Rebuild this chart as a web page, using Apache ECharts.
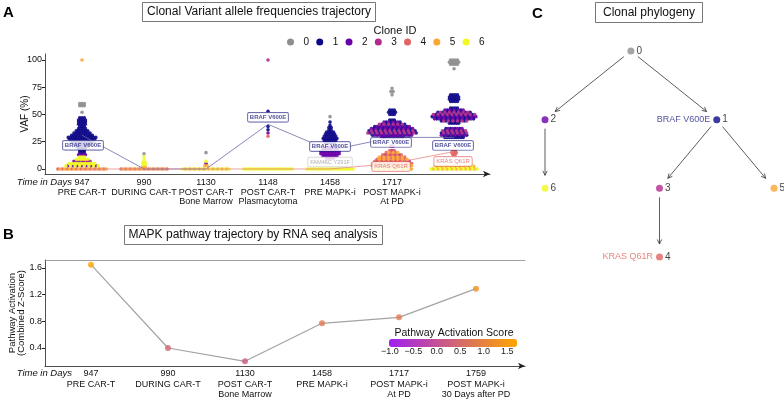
<!DOCTYPE html>
<html>
<head>
<meta charset="utf-8">
<script src="https://cdn.jsdelivr.net/npm/echarts@6/dist/echarts.min.js"></script>
<style>
  html, body { margin: 0; padding: 0; background: #fff; }
  #chart { width: 784px; height: 399px; }
</style>
</head>
<body>
<div id="chart"></div>
<script>
// ---- data ----
const cloneIds = ['0', '1', '2', '3', '4', '5', '6'];
const cloneColors = ['#8e8e8e', '#0D0887', '#6A00A8', '#B12A90', '#E16462', '#FCA636', '#F0F921'];

const daysA = [947, 990, 1130, 1148, 1458, 1717, 1759];
const stagesA = ['PRE CAR-T', 'DURING CAR-T', 'POST CAR-T\nBone Marrow', 'POST CAR-T\nPlasmacytoma',
  'PRE MAPK-i', 'POST MAPK-i\nAt PD', 'POST MAPK-i\n30 Days after PD'];

// beeswarm rows per time point: [clone, VAF, number of variants in the row, mixed clone]
const vafDay947 = [[5, 100, 1], [0, 60, 3], [0, 58, 3], [0, 52, 1],
  [1, 47, 3], [1, 45, 4], [1, 43, 4], [1, 41, 4], [1, 39, 3], [1, 37, 4], [1, 35, 6], [1, 33, 8],
  [1, 31, 10], [1, 29, 13], [1, 27, 12], [1, 25, 10], [1, 23, 8], [1, 21, 6], [1, 19, 4], [1, 17, 3], [1, 15, 3],
  [2, 13, 4], [6, 11, 3], [6, 9, 6], [2, 7, 8, 3], [6, 5, 12], [6, 3, 15, 2], [4, 0, 22, 5]];
const vafDay990 = [[0, 14, 1], [6, 11, 1], [6, 8, 1], [6, 6, 2], [6, 4, 2], [5, 2, 2], [4, 0, 21, 5]];
const vafDay1130 = [[0, 15, 1], [6, 7, 1], [2, 5, 1], [5, 3, 2], [6, 0, 21, 5]];
const vafDay1148 = [[3, 100, 1], [1, 53, 1], [1, 39, 1], [1, 36, 1], [2, 33, 1], [4, 30, 1], [6, 0, 22]];
const vafDay1458 = [[0, 48, 1], [1, 43, 1], [1, 40, 1], [1, 38, 2], [1, 36, 2], [1, 34, 4], [1, 32, 5],
  [1, 30, 6], [1, 28, 7], [1, 26, 6], [1, 24, 5], [2, 20, 4], [2, 18, 7], [2, 16, 9], [2, 14, 9],
  [2, 12, 7], [2, 10, 4], [6, 0, 21]];
const vafDay1717 = [[0, 74, 1], [0, 71, 2], [0, 68, 1], [1, 54, 3], [1, 52, 4], [1, 50, 3],
  [1, 45, 3], [2, 43, 8, 1], [3, 41, 12, 1], [1, 39, 16, 2], [2, 37, 19, 1], [1, 35, 21, 3],
  [3, 33, 22, 1], [1, 31, 18, 2], [2, 29, 10, 1], [3, 21, 2], [4, 17, 3, 3], [4, 15, 6, 5],
  [4, 13, 9, 3], [5, 11, 12, 4], [4, 9, 14, 5], [4, 7, 16, 3], [5, 5, 18, 4], [4, 3, 18, 5], [6, 0, 18, 5]];
const vafDay1759 = [[0, 100, 4], [0, 98, 5], [0, 96, 4], [0, 92, 1], [1, 68, 4], [1, 66, 5], [1, 64, 5],
  [1, 62, 4], [1, 56, 4], [2, 54, 9, 1], [1, 52, 15, 3], [3, 50, 19, 1], [1, 48, 20, 2], [2, 46, 18, 1],
  [1, 44, 12, 3], [1, 42, 5], [1, 37, 8, 2], [3, 35, 11, 1], [1, 33, 12, 3], [2, 31, 12, 1], [1, 29, 9],
  [4, 17, 2], [4, 15, 3], [4, 13, 2], [6, 2.5, 18, 5], [6, 0, 21, 5]];
const swarmByTime = [vafDay947, vafDay990, vafDay1130, vafDay1148, vafDay1458, vafDay1717, vafDay1759];

const brafVaf = [31, 0, 0, 41, 17, 29, 29];
const krasVaf = [0, 0, 0, 0, 0, 5, 16];
const brafLabelAt = [0, 3, 4, 5, 6];
const krasLabelAt = [5, 6];
const famLabelAt = [4];
const famVaf = [0, 0, 0, 0, 0, 0, 0];

const daysB = [947, 990, 1130, 1458, 1717, 1759];
const stagesB = ['PRE CAR-T', 'DURING CAR-T', 'POST CAR-T\nBone Marrow', 'PRE MAPK-i',
  'POST MAPK-i\nAt PD', 'POST MAPK-i\n30 Days after PD'];
const mapkScore = [1.65, 0.40, 0.20, 0.77, 0.86, 1.29];
const scoreTicks = [-1.0, -0.5, 0.0, 0.5, 1.0, 1.5];

const phyloNodes = ['0', '1', '2', '3', '4', '5', '6'];
const phyloEdges = [['0', '2'], ['0', '1'], ['2', '6'], ['1', '3'], ['1', '5'], ['3', '4']];
const mutationNodes = ['1', '4'];
const mutationNames = ['BRAF V600E', 'KRAS Q61R'];

// ---- helpers ----
const FONT = 'Liberation Sans, Arial, sans-serif';

function stageLabel(days, stages) {
  return function (v) {
    const i = Math.round(v);
    const lines = stages[i].split('\n').map(s => '{s|' + s + '}');
    return '{d|' + days[i] + '}\n' + lines.join('\n');
  };
}

// swarm rows -> one series per clone
const swarmData = cloneIds.map(() => []);
swarmByTime.forEach((rows, t) => {
  rows.forEach(r => {
    const [clone, vaf, n, alt] = r;
    if (alt === undefined) {
      swarmData[clone].push([t, vaf, n, 0]);
    } else {
      swarmData[clone].push([t, vaf, n, 1]);
      swarmData[alt].push([t, vaf, n, 2]);
    }
  });
});

function renderSwarm(params, api) {
  const t = api.value(0), vaf = api.value(1), n = api.value(2), phase = api.value(3);
  const c = api.coord([t, vaf]);
  const step = 2.3;
  const children = [];
  for (let k = 0; k < n; k++) {
    if (phase === 1 && k % 2 === 1) continue;
    if (phase === 2 && k % 2 === 0) continue;
    children.push({
      type: 'circle',
      shape: { cx: c[0] + (k - (n - 1) / 2) * step, cy: c[1], r: 1.8 },
      style: { fill: api.visual('color'), opacity: 0.9 }
    });
  }
  return { type: 'group', children: children };
}

// simple tidy tree layout: leaves in order, parents centred over children
function layoutTree(root) {
  const pos = {};
  let leaf = 0;
  function visit(id, depth) {
    const kids = phyloEdges.filter(e => e[0] === id).map(e => e[1]);
    let x;
    if (!kids.length) {
      x = leaf++;
    } else {
      const xs = kids.map(k => visit(k, depth + 1));
      x = (Math.min(...xs) + Math.max(...xs)) / 2;
    }
    pos[id] = [x, depth];
    return x;
  }
  visit(root, 0);
  return pos;
}
const treePos = layoutTree('0');

function renderEdge(params, api) {
  const p = api.coord([api.value(0), api.value(1)]);
  const q = api.coord([api.value(2), api.value(3)]);
  const dx = q[0] - p[0], dy = q[1] - p[1];
  const len = Math.sqrt(dx * dx + dy * dy);
  const ux = dx / len, uy = dy / len;
  const s = [p[0] + ux * 9, p[1] + uy * 9];
  const e = [q[0] - ux * 13, q[1] - uy * 13];
  const a = 0.45, w = 5;
  const w1 = [e[0] - w * (ux * Math.cos(a) - uy * Math.sin(a)), e[1] - w * (uy * Math.cos(a) + ux * Math.sin(a))];
  const w2 = [e[0] - w * (ux * Math.cos(a) + uy * Math.sin(a)), e[1] - w * (uy * Math.cos(a) - ux * Math.sin(a))];
  const st = { stroke: '#333', lineWidth: 0.8, fill: null };
  return {
    type: 'group', children: [
      { type: 'line', shape: { x1: s[0], y1: s[1], x2: e[0], y2: e[1] }, style: st },
      { type: 'polyline', shape: { points: [w1, e, w2] }, style: st }
    ]
  };
}

function labelBox(color, bold) {
  return {
    show: true, position: 'inside', color: color, fontSize: 6, fontWeight: bold ? 'bold' : 'normal',
    backgroundColor: '#fff', borderColor: color, borderWidth: 0.7, borderRadius: 1.5, padding: [2, 2, 1, 2]
  };
}

// ---- series ----
const series = [];
cloneIds.forEach((id, i) => {
  series.push({
    name: id, type: 'custom', xAxisIndex: 0, yAxisIndex: 0, renderItem: renderSwarm,
    data: swarmData[i], encode: { x: 0, y: 1 }, color: cloneColors[i], z: 2, silent: true
  });
});
series.push({
  name: 'braf', type: 'line', xAxisIndex: 0, yAxisIndex: 0, data: brafVaf.map((v, i) => [i, v]),
  showSymbol: false, lineStyle: { color: '#6b6ca8', width: 0.8 }, z: 3, silent: true
});
series.push({
  name: 'kras', type: 'line', xAxisIndex: 0, yAxisIndex: 0, data: krasVaf.map((v, i) => [i, v]),
  showSymbol: false, lineStyle: { color: '#e58a86', width: 0.8 }, z: 3, silent: true
});
const brafOffsets = [[1, 10], [0, -7], [0, -4], [-1, 5], [-1, 8]];
series.push({
  name: 'brafLab', type: 'scatter', xAxisIndex: 0, yAxisIndex: 0, symbolSize: 0, z: 5,
  data: brafLabelAt.map((t, j) => ({ value: [t, brafVaf[t]], label: { offset: brafOffsets[j] } })),
  label: Object.assign(labelBox('#1f1f7f', true), { formatter: 'BRAF V600E' })
});
const krasOffsets = [[-1, 3], [-1, 10]];
series.push({
  name: 'krasLab', type: 'scatter', xAxisIndex: 0, yAxisIndex: 0, symbolSize: 0, z: 5,
  data: krasLabelAt.map((t, j) => ({ value: [t, krasVaf[t]], label: { offset: krasOffsets[j] } })),
  label: Object.assign(labelBox('#e16462', false), { formatter: 'KRAS Q61R' })
});
series.push({
  name: 'famLab', type: 'scatter', xAxisIndex: 0, yAxisIndex: 0, symbolSize: 0, z: 5,
  data: famLabelAt.map(t => ({ value: [t, famVaf[t]], label: { offset: [0, -7] } })),
  label: Object.assign(labelBox('#9a9a9a', false), { formatter: 'FAM46C Y291F', fontSize: 5.6, borderColor: '#c8c8c8' })
});

series.push({
  name: 'mapkLine', type: 'line', xAxisIndex: 1, yAxisIndex: 1, data: mapkScore.map((v, i) => [i, v]),
  showSymbol: false, lineStyle: { color: '#a3a3a3', width: 1.2 }, z: 2, silent: true
});
const mapkPointIndex = series.length;
series.push({
  name: 'mapkPoints', type: 'scatter', xAxisIndex: 1, yAxisIndex: 1, data: mapkScore.map((v, i) => [i, v]),
  symbolSize: 6, z: 3
});

series.push({
  name: 'edges', type: 'custom', xAxisIndex: 3, yAxisIndex: 2, renderItem: renderEdge, silent: true,
  data: phyloEdges.map(e => [treePos[e[0]][0], treePos[e[0]][1], treePos[e[1]][0], treePos[e[1]][1]]),
  encode: { x: [0, 2], y: [1, 3] }
});
series.push({
  name: 'nodes', type: 'scatter', xAxisIndex: 3, yAxisIndex: 2, symbolSize: 7, z: 3,
  data: phyloNodes.map((id, i) => ({ value: treePos[id], itemStyle: { color: cloneColors[i] } })),
  label: { show: true, position: 'right', distance: 2, formatter: p => phyloNodes[p.dataIndex], fontSize: 10, color: '#111' }
});
const mutationColors = ['#25258a', '#e16462'];
series.push({
  name: 'mutations', type: 'scatter', xAxisIndex: 3, yAxisIndex: 2, symbolSize: 7, z: 2, silent: true,
  itemStyle: { color: 'rgba(0,0,0,0)' },
  data: mutationNodes.map((id, i) => ({ value: treePos[id], label: { color: mutationColors[i] } })),
  label: { show: true, position: 'left', distance: 3, fontSize: 9, formatter: p => mutationNames[p.dataIndex] }
});

// ---- colorbar tick labels (legend decoration) ----
const cbLeft = 389, cbWidth = 128, cbMin = -1.02, cbMax = 1.71;
const cbTickText = scoreTicks.map(v => ({
  type: 'text', x: cbLeft + (v - cbMin) / (cbMax - cbMin) * cbWidth, y: 352,
  style: { text: v.toFixed(1).replace('-', '\u2212'), font: '9px ' + FONT, fill: '#222', align: 'center', verticalAlign: 'middle' }
}));

const richA = {
  d: { fontSize: 9, lineHeight: 11, color: '#111', align: 'center' },
  s: { fontSize: 9, lineHeight: 9, color: '#111', align: 'center' }
};
const richB = {
  d: { fontSize: 9, lineHeight: 13, color: '#111', align: 'center' },
  s: { fontSize: 9, lineHeight: 10, color: '#111', align: 'center' }
};
const axisLineStyle = { lineStyle: { color: '#222', width: 0.8 }, onZero: false };

const option = {
  animation: false,
  backgroundColor: '#fff',
  textStyle: { fontFamily: FONT },
  grid: [
    { left: 45, top: 54, width: 445, height: 120, outerBoundsMode: 'none' },
    { left: 45, top: 260, width: 480, height: 106, outerBoundsMode: 'none' },
    { left: 545, top: 51, width: 229, height: 206, outerBoundsMode: 'none' }
  ],
  legend: {
    data: cloneIds, left: 287, top: 37, icon: 'circle', itemWidth: 8, itemHeight: 7, itemGap: 7.2,
    textStyle: { fontSize: 10, color: '#111', padding: [0, 0, 0, 4] }, padding: 0
  },
  visualMap: {
    type: 'continuous', seriesIndex: mapkPointIndex, dimension: 1, min: cbMin, max: cbMax,
    inRange: { color: ['#A020F0', '#FFA500'] }, orient: 'horizontal', itemWidth: 8, itemHeight: cbWidth,
    left: cbLeft, top: 339, padding: 0, text: null, calculable: false, hoverLink: false
  },
  xAxis: [
    {
      gridIndex: 0, type: 'value', min: -0.597, max: 6.58,
      axisLine: Object.assign({ symbol: ['none', 'arrow'], symbolSize: [5, 7] }, axisLineStyle),
      axisTick: { show: false }, splitLine: { show: false },
      axisLabel: { customValues: [0, 1, 2, 3, 4, 5, 6], margin: 3, formatter: stageLabel(daysA, stagesA), rich: richA }
    },
    {
      gridIndex: 1, type: 'value', min: -0.597, max: 5.636,
      axisLine: Object.assign({ symbol: ['none', 'arrow'], symbolSize: [5, 7] }, axisLineStyle),
      axisTick: { show: false }, splitLine: { show: false },
      axisLabel: { customValues: [0, 1, 2, 3, 4, 5], margin: 1, formatter: stageLabel(daysB, stagesB), rich: richB }
    },
    {
      gridIndex: 1, type: 'value', position: 'top', min: -0.597, max: 5.636,
      axisLine: { lineStyle: { color: '#888', width: 0.8 }, onZero: false },
      axisTick: { show: false }, axisLabel: { show: false }, splitLine: { show: false }
    },
    { gridIndex: 2, type: 'value', min: 0, max: 2, show: false }
  ],
  yAxis: [
    {
      gridIndex: 0, type: 'value', min: -4.6, max: 105.5,
      name: 'VAF (%)', nameLocation: 'middle', nameGap: 15, nameMoveOverlap: false,
      nameTextStyle: { fontSize: 10, color: '#111' },
      axisLine: Object.assign({ show: true }, axisLineStyle),
      axisTick: { show: true, length: 3, customValues: [0, 25, 50, 75, 100] },
      axisLabel: { customValues: [0, 25, 50, 75, 100], fontSize: 9, color: '#111', margin: 3 },
      splitLine: { show: false }
    },
    {
      gridIndex: 1, type: 'value', min: 0.13, max: 1.72,
      name: 'Pathway Activation\n(Combined Z-Score)', nameLocation: 'middle', nameGap: 19, nameMoveOverlap: false,
      nameTextStyle: { fontSize: 9.5, color: '#111', lineHeight: 9 },
      axisLine: Object.assign({ show: true }, axisLineStyle),
      axisTick: { show: true, length: 3, customValues: [0.4, 0.8, 1.2, 1.6] },
      axisLabel: { customValues: [0.4, 0.8, 1.2, 1.6], fontSize: 9, color: '#111', margin: 3, formatter: v => v.toFixed(1) },
      splitLine: { show: false }
    },
    { gridIndex: 2, type: 'value', min: 0, max: 3, inverse: true, show: false }
  ],
  graphic: [
    { type: 'text', x: 3, y: 13, style: { text: 'A', font: 'bold 15px ' + FONT, fill: '#000', verticalAlign: 'middle' } },
    { type: 'text', x: 3, y: 235, style: { text: 'B', font: 'bold 15px ' + FONT, fill: '#000', verticalAlign: 'middle' } },
    { type: 'text', x: 532, y: 14, style: { text: 'C', font: 'bold 15px ' + FONT, fill: '#000', verticalAlign: 'middle' } },
    { type: 'rect', shape: { x: 142.5, y: 2.5, width: 233, height: 19 }, style: { fill: '#fff', stroke: '#555', lineWidth: 0.8 } },
    { type: 'text', x: 259, y: 12, style: { text: 'Clonal Variant allele frequencies trajectory', font: '12px ' + FONT, fill: '#111', align: 'center', verticalAlign: 'middle' } },
    { type: 'rect', shape: { x: 124.5, y: 225.5, width: 258, height: 19 }, style: { fill: '#fff', stroke: '#555', lineWidth: 0.8 } },
    { type: 'text', x: 253, y: 235, style: { text: 'MAPK pathway trajectory by RNA seq analysis', font: '12px ' + FONT, fill: '#111', align: 'center', verticalAlign: 'middle' } },
    { type: 'rect', shape: { x: 595.5, y: 2.5, width: 107, height: 20 }, style: { fill: '#fff', stroke: '#555', lineWidth: 0.8 } },
    { type: 'text', x: 649, y: 13, style: { text: 'Clonal phylogeny', font: '12px ' + FONT, fill: '#111', align: 'center', verticalAlign: 'middle' } },
    { type: 'text', x: 395, y: 31, style: { text: 'Clone ID', font: '11px ' + FONT, fill: '#111', align: 'center', verticalAlign: 'middle' } },
    { type: 'text', x: 72, y: 182, style: { text: 'Time in Days', font: 'italic 9.5px ' + FONT, fill: '#111', align: 'right', verticalAlign: 'middle' } },
    { type: 'text', x: 72, y: 373, style: { text: 'Time in Days', font: 'italic 9.5px ' + FONT, fill: '#111', align: 'right', verticalAlign: 'middle' } },
    { type: 'text', x: 454, y: 333, style: { text: 'Pathway Activation Score', font: '10.5px ' + FONT, fill: '#111', align: 'center', verticalAlign: 'middle' } }
  ].concat(cbTickText),
  series: series
};

const myChart = echarts.init(document.getElementById('chart'));
myChart.setOption(option);
</script>
</body>
</html>
